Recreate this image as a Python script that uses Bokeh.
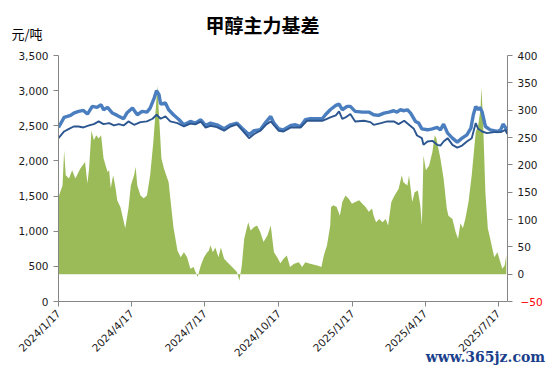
import math
import pandas as pd
from bokeh.plotting import figure
from bokeh.models import Range1d, LinearAxis, FixedTicker, NumeralTickFormatter, Label
from bokeh.embed import file_html
from bokeh.resources import INLINE

# ---- data (x = days since 2024-01-17) ----
x_ticks = [0, 91, 182, 274, 366, 456, 547]
x_tick_labels = ["2024/1/17", "2024/4/17", "2024/7/17", "2024/10/17",
                 "2025/1/17", "2025/4/17", "2025/7/17"]
left_ticks = [0, 500, 1000, 1500, 2000, 2500, 3000, 3500]
right_ticks = [0, 50, 100, 150, 200, 250, 300, 350, 400]
right_neg_ticks = [-50]

basis_days = [0, 5, 7, 9, 13, 17, 21, 27, 33, 36,
              38, 41, 44, 47, 50, 53, 56, 61, 63, 65,
              68, 71, 73, 77, 83, 87, 90, 94, 96, 98,
              102, 106, 110, 114, 118, 121, 123, 125, 128, 131,
              134, 137, 140, 143, 148, 152, 156, 160, 164, 168,
              173, 177, 181, 185, 187, 189, 192, 195, 199, 202,
              206, 210, 216, 222, 225, 228, 231, 233, 236, 239,
              243, 247, 251, 255, 260, 264, 268, 272, 276, 280,
              284, 288, 293, 299, 303, 307, 313, 322, 327, 330,
              334, 338, 339, 342, 346, 350, 353, 357, 361, 365,
              369, 374, 378, 382, 386, 390, 392, 395, 399, 403,
              407, 410, 414, 418, 423, 427, 429, 434, 436, 440,
              443, 447, 450, 452, 454, 457, 461, 465, 468, 470,
              475, 479, 483, 485, 490, 494, 497, 500, 503, 506,
              510, 514, 519, 522, 525, 526, 528, 531, 534, 537,
              542, 546, 549, 552, 555, 557]
basis = [141, 162, 226, 181, 175, 190, 175, 193, 205, 166,
         193, 263, 245, 254, 248, 254, 212, 187, 190, 157,
         181, 157, 135, 123, 84, 120, 162, 181, 196, 162,
         144, 139, 144, 181, 242, 303, 345, 291, 212, 194,
         181, 168, 126, 86, 43, 31, 40, 31, 10, 13,
         -5, 16, 31, 40, 43, 53, 40, 49, 31, 49,
         28, 22, 13, 4, -12, 16, 65, 77, 95, 80,
         86, 89, 77, 59, 71, 89, 40, 31, 20, 28,
         34, 13, 19, 22, 13, 22, 19, 16, 13, 34,
         53, 89, 123, 126, 123, 107, 132, 144, 138, 129,
         132, 135, 129, 123, 114, 120, 107, 95, 101, 95,
         101, 89, 132, 144, 156, 181, 168, 162, 181, 132,
         150, 153, 126, 89, 217, 190, 199, 223, 254, 248,
         212, 175, 120, 107, 101, 77, 65, 93, 84, 101,
         132, 181, 260, 272, 303, 342, 285, 150, 84, 65,
         31, 40, 25, 10, 16, 34]

upper_days = [0, 7, 11, 15, 19, 25, 31, 36, 42, 48,
              53, 56, 61, 67, 73, 81, 85, 92, 98, 104,
              110, 114, 119, 122, 125, 127, 133, 137, 143, 150,
              156, 164, 170, 177, 183, 189, 197, 206, 214, 222,
              229, 237, 243, 251, 258, 264, 268, 274, 280, 289,
              295, 301, 307, 313, 322, 328, 332, 338, 345, 349,
              353, 359, 363, 369, 378, 386, 392, 398, 405, 411,
              417, 421, 425, 430, 434, 438, 444, 448, 452, 459,
              465, 471, 475, 479, 484, 490, 496, 502, 508, 513,
              516, 519, 522, 524, 527, 531, 537, 546, 550, 553,
              556, 558]
upper = [2476, 2619, 2633, 2648, 2681, 2705, 2719, 2667, 2776, 2762,
         2800, 2728, 2762, 2681, 2648, 2600, 2681, 2752, 2657, 2705,
         2695, 2752, 2895, 3000, 2943, 2809, 2824, 2728, 2657, 2586,
         2514, 2562, 2538, 2586, 2505, 2538, 2514, 2457, 2514, 2538,
         2457, 2371, 2429, 2443, 2552, 2633, 2538, 2457, 2443, 2505,
         2514, 2490, 2586, 2600, 2600, 2600, 2657, 2728, 2790, 2809,
         2728, 2776, 2776, 2705, 2695, 2695, 2657, 2648, 2681, 2695,
         2714, 2695, 2728, 2714, 2728, 2681, 2562, 2538, 2457, 2443,
         2457, 2476, 2443, 2524, 2395, 2324, 2267, 2324, 2371, 2467,
         2657, 2776, 2728, 2762, 2695, 2490, 2443, 2419, 2443, 2524,
         2476, 2420]

lower_days = [0, 7, 13, 19, 25, 31, 38, 44, 50, 56,
              63, 69, 75, 81, 87, 94, 102, 110, 117, 122,
              127, 133, 139, 148, 156, 164, 170, 177, 183, 189,
              197, 206, 214, 222, 229, 237, 243, 251, 258, 264,
              274, 280, 289, 301, 309, 322, 328, 334, 338, 345,
              349, 353, 357, 363, 369, 380, 388, 392, 401, 409,
              417, 423, 430, 436, 442, 446, 452, 454, 459, 465,
              471, 475, 479, 484, 490, 496, 502, 508, 514, 519,
              522, 527, 533, 542, 550, 556, 558]
lower = [2324, 2419, 2457, 2490, 2490, 2476, 2505, 2524, 2562, 2524,
         2538, 2505, 2524, 2505, 2562, 2514, 2552, 2562, 2600, 2657,
         2600, 2633, 2562, 2538, 2490, 2530, 2520, 2560, 2475, 2500,
         2480, 2430, 2490, 2520, 2430, 2324, 2381, 2429, 2514, 2562,
         2429, 2419, 2476, 2476, 2571, 2571, 2571, 2600, 2619, 2648,
         2705, 2600, 2619, 2667, 2562, 2571, 2552, 2514, 2538, 2562,
         2562, 2524, 2571, 2514, 2457, 2362, 2324, 2229, 2276, 2286,
         2229, 2219, 2276, 2324, 2229, 2190, 2219, 2276, 2324, 2538,
         2457, 2419, 2395, 2410, 2410, 2443, 2385]

TICK_FONT = "DejaVu Sans"
TICK_SIZE = "10.5px"
AXIS_COLOR = "#868686"

# frame spans from the top of the canvas down to the x axis; the value axes
# are bounded to their own ranges so that the title can sit inside the frame
FRAME_TOP_PAD = 55      # px between canvas top and 3,500 / 400
PLOT_H = 246            # px from 0 to 3,500
left_top = 3500 + FRAME_TOP_PAD * 3500 / PLOT_H
right_top = 400 + FRAME_TOP_PAD * 450 / PLOT_H
unit_value = 3500 + (FRAME_TOP_PAD - 33) * 3500 / PLOT_H

p = figure(width=550, height=372, output_backend="svg", toolbar_location=None,
           x_range=Range1d(0, 558.5), y_range=Range1d(0, left_top),
           min_border_left=58, min_border_right=43, min_border_top=0,
           min_border_bottom=71)
p.extra_y_ranges = {"right": Range1d(-50, right_top)}
p.grid.visible = False
p.outline_line_color = None
p.background_fill_color = "white"
p.border_fill_color = "white"

# basis area (right axis)
p.varea(x=basis_days, y1=[0] * len(basis), y2=basis, y_range_name="right",
        fill_color="#9BBB59", fill_alpha=1.0)

# price lines (left axis)
p.line(upper_days, upper, line_color="#4A7EBF", line_width=3.4)
p.line(lower_days, lower, line_color="#2C5690", line_width=1.9)

right_axis = LinearAxis(y_range_name="right")
p.add_layout(right_axis, "right")


def style_axis(ax):
    ax.axis_line_color = AXIS_COLOR
    ax.major_tick_line_color = AXIS_COLOR
    ax.major_tick_out = 5
    ax.major_tick_in = 0
    ax.minor_tick_line_color = None
    ax.major_label_text_font = TICK_FONT
    ax.major_label_text_font_size = TICK_SIZE
    ax.major_label_text_color = "#1a1a1a"
    ax.major_label_standoff = 5


for ax in [p.xaxis[0], p.yaxis[0], right_axis]:
    style_axis(ax)

p.xaxis.ticker = FixedTicker(ticks=x_ticks)
p.xaxis.major_label_overrides = dict(zip(x_ticks, x_tick_labels))
p.xaxis.major_label_orientation = math.pi / 4

p.yaxis[0].ticker = FixedTicker(ticks=left_ticks)
p.yaxis[0].formatter = NumeralTickFormatter(format="0,0")
p.yaxis[0].bounds = (0, 3500)

right_axis.ticker = FixedTicker(ticks=right_ticks + right_neg_ticks)
right_axis.major_label_overrides = {-50: " "}
right_axis.bounds = (-50, 400)

# red negative label on the right axis (second axis, drawn over the first)
neg_axis = LinearAxis(y_range_name="right", ticker=FixedTicker(ticks=right_neg_ticks),
                      axis_line_color=None, major_tick_line_color=None,
                      minor_tick_line_color=None, major_tick_out=0,
                      major_tick_in=0, major_label_standoff=-20,
                      major_label_text_color="#FF0000",
                      major_label_text_font=TICK_FONT,
                      major_label_text_font_size=TICK_SIZE)
p.add_layout(neg_axis, "right")

# unit label "元/吨" at the top of the left axis
unit_axis = LinearAxis(ticker=FixedTicker(ticks=[unit_value]),
                       major_label_overrides={unit_value: "元/吨"},
                       axis_line_color=None, major_tick_line_color=None,
                       minor_tick_line_color=None, major_tick_out=0,
                       major_tick_in=0, major_label_standoff=-27,
                       major_label_text_color="#000000",
                       major_label_text_font="Noto Sans CJK SC",
                       major_label_text_font_size="13px")
p.add_layout(unit_axis, "left")

# watermark under the date axis
wm_axis = LinearAxis(ticker=FixedTicker(ticks=[531]),
                     major_label_overrides={531: "www.365jz.com"},
                     axis_line_color=None, major_tick_line_color=None,
                     minor_tick_line_color=None, major_tick_out=0,
                     major_tick_in=0, major_label_standoff=-17,
                     major_label_text_color="#1B3F8B",
                     major_label_text_font="DejaVu Serif",
                     major_label_text_font_style="bold",
                     major_label_text_font_size="14px")
p.add_layout(wm_axis, "below")

# title (inside the frame area, above the bounded axes)
p.add_layout(Label(x=204, y=301 - 24, x_units="screen", y_units="screen",
                   text="甲醇主力基差", text_font="Noto Sans CJK SC",
                   text_font_style="bold", text_font_size="19px",
                   text_color="#000000", text_align="center",
                   text_baseline="middle"))

open("out.html", "w").write(file_html(p, INLINE))
